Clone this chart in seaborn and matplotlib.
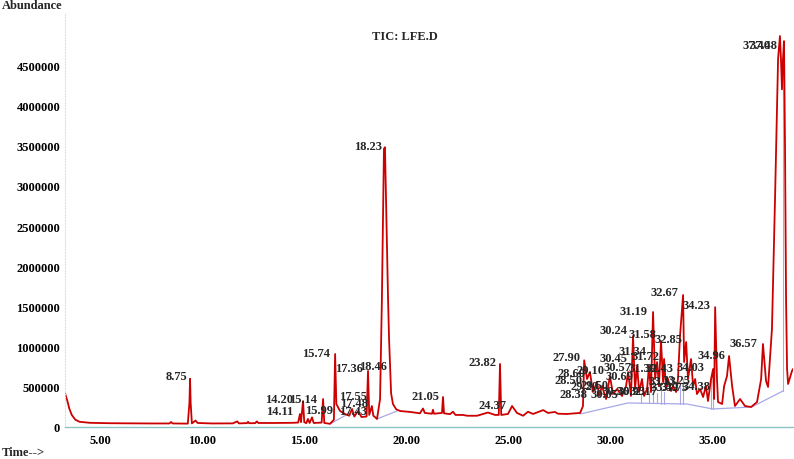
import numpy as np
import pandas as pd
import matplotlib.pyplot as plt
import matplotlib.ticker as mticker
import seaborn as sns

# -------------------------------
# Chromatogram trace (time, abundance)
# -------------------------------
rt = [3.29, 3.40, 3.50, 3.62, 3.80, 4.00, 4.50, 5.50, 6.50, 7.50, 8.40, 8.48, 8.56,
      9.30, 9.38, 9.41, 9.44, 9.50, 9.68, 9.78, 10.50, 11.50, 11.72, 11.80, 12.20,
      12.25, 12.30, 12.60, 12.68, 12.75, 13.50, 14.40, 14.70, 14.79, 14.84, 14.94,
      15.00, 15.10, 15.18, 15.26, 15.38, 15.46, 15.85, 15.92, 15.98, 16.26, 16.45,
      16.51, 16.57, 16.75, 16.99, 17.20, 17.34, 17.45, 17.63, 17.80, 18.05, 18.12,
      18.18, 18.31, 18.38, 18.46, 18.56, 18.71, 18.80, 18.90, 18.95, 19.00, 19.10,
      19.15, 19.20, 19.25, 19.34, 19.50, 19.69, 20.20, 20.66, 20.81, 20.90, 21.25,
      21.30, 21.35, 21.74, 21.79, 21.84, 22.13, 22.28, 22.40, 22.77, 22.97, 23.46,
      23.99, 24.34, 24.52, 24.58, 24.64, 24.97, 25.17, 25.41, 25.71, 25.95, 26.20,
      26.69, 26.93, 27.27, 27.42, 27.86, 28.50, 28.64, 28.70, 28.84, 28.98, 29.13,
      29.33, 29.43, 29.57, 29.77, 29.96, 30.11, 30.31, 30.55, 30.75, 30.85, 30.99,
      31.09, 31.19, 31.29, 31.39, 31.53, 31.63, 31.78, 31.87, 31.97, 32.07, 32.17,
      32.27, 32.36, 32.46, 32.56, 32.61, 32.71, 32.80, 32.95, 33.05, 33.20, 33.29,
      33.39, 33.54, 33.59, 33.69, 33.78, 33.93, 34.03, 34.13, 34.22, 34.37, 34.52,
      34.66, 34.76, 34.91, 35.01, 35.06, 35.11, 35.20, 35.25, 35.45, 35.55, 35.69,
      35.79, 35.94, 36.08, 36.33, 36.57, 36.87, 37.16, 37.36, 37.45, 37.60, 37.70,
      37.89, 38.04, 38.19, 38.28, 38.33, 38.38, 38.43, 38.48, 38.53, 38.58, 38.63,
      38.68, 38.78, 38.87, 38.92]
abundance = [420000, 330000, 230000, 150000, 90000, 65000, 52000, 47000, 45000, 44000,
             44000, 62000, 44000,
             42000, 300000, 600000, 300000, 45000, 80000, 50000, 44000, 45000, 70000,
             45000, 48000, 65000, 47000, 48000, 70000, 50000, 50000, 52000, 55000,
             162000, 60000, 323000, 60000, 48000, 100000, 50000, 120000, 50000, 55000,
             348000, 50000, 40000, 90000, 908000, 286000, 200000, 162000, 140000,
             224000, 130000, 199000, 124000, 130000, 697000, 150000, 261000, 140000,
             124000, 100000, 348000, 1590000, 3460000, 3480000, 2850000, 1600000,
             1100000, 746000, 420000, 286000, 220000, 199000, 187000, 170000, 230000,
             175000, 165000, 215000, 165000, 175000, 373000, 170000, 160000, 190000,
             150000, 150000, 140000, 140000, 180000, 150000, 150000, 784000, 150000,
             162000, 261000, 175000, 140000, 190000, 162000, 210000, 175000, 187000,
             165000, 162000, 175000, 260000, 830000, 597000, 684000, 435000, 560000,
             386000, 510000, 348000, 634000, 410000, 473000, 386000, 510000, 684000,
             386000, 1132000, 473000, 759000, 435000, 597000, 386000, 473000, 759000,
             435000, 1430000, 597000, 808000, 510000, 1070000, 560000, 846000, 473000,
             597000, 448000, 510000, 435000, 597000, 1132000, 1642000, 808000,
             1057000, 597000, 846000, 510000, 597000, 410000, 473000, 373000, 510000,
             323000, 597000, 721000, 348000, 1490000, 597000, 311000, 286000, 510000,
             634000, 883000, 510000, 261000, 348000, 261000, 249000, 311000, 597000,
             1032000, 572000, 498000, 1219000, 2836000, 4580000, 4863000, 4580000,
             4200000, 4580000, 4800000, 3460000, 1590000, 721000, 535000, 622000,
             697000, 721000]

# peak labels: text, peak time, label height
peak_labels = ["8.75", "14.11", "14.20", "15.14", "15.99", "15.74", "17.36", "17.55",
               "17.48", "17.43", "18.46", "18.23", "21.05", "23.82", "24.37", "27.90",
               "28.60", "28.50", "29.10", "29.20", "29.50", "28.38", "30.05", "30.36",
               "30.93", "32.17", "30.45", "30.57", "30.69", "31.34", "31.72", "31.39",
               "32.43", "31.58", "31.19", "30.24", "32.67", "32.85", "34.23", "34.03",
               "33.13", "33.25", "33.49", "33.75", "34.38", "34.96", "36.57", "37.40",
               "37.48"]
peak_rt = [9.36, 14.55, 14.55, 15.72, 16.50, 16.36, 17.97, 18.17, 18.20, 18.17, 19.15,
           18.90, 21.74, 24.53, 25.02, 28.60, 28.84, 28.74, 29.80, 29.50, 30.00, 28.98,
           30.50, 31.00, 31.80, 32.40, 30.94, 31.10, 31.20, 31.87, 32.50, 32.36, 33.15,
           32.36, 31.92, 30.94, 33.39, 33.59, 34.96, 34.71, 33.30, 34.00, 33.40, 33.90,
           35.00, 35.69, 37.30, 37.94, 38.24]
peak_height = [634000, 199000, 348000, 348000, 211000, 920000, 734000, 386000, 300000,
               199000, 759000, 3500000, 386000, 808000, 274000, 870000, 672000, 585000,
               709000, 510000, 522000, 410000, 410000, 448000, 448000, 448000, 858000,
               746000, 634000, 945000, 883000, 734000, 734000, 1157000, 1443000,
               1206000, 1679000, 1095000, 1517000, 746000, 572000, 585000, 497000,
               497000, 510000, 896000, 1045000, 4750000, 4750000]

y_ticks = [0, 500000, 1000000, 1500000, 2000000, 2500000, 3000000, 3500000, 4000000, 4500000]

# integration baselines
base_rt = [[16.26, 17.14], [18.56, 19.54], [28.50, 30.85, 33.73, 35.00, 36.90, 38.43]]
base_ab = [[37000, 162000], [100000, 199000], [162000, 299000, 286000, 224000, 249000, 448000]]
drop_rt = [31.50, 31.85, 32.07, 32.27, 32.46, 32.61, 33.39, 33.54, 34.91, 35.01, 38.43]
drop_top = [420000, 450000, 600000, 420000, 560000, 430000, 520000, 600000, 597000, 700000, 4800000]

# -------------------------------
# Plot
# -------------------------------
sns.set_style("white")
plt.rcParams['font.family'] = ['Liberation Serif', 'DejaVu Serif']
plt.rcParams['font.weight'] = 'bold'

fig = plt.figure(figsize=(7.94, 4.6), dpi=100)
ax = fig.add_axes([65 / 794, 32 / 460, 728 / 794, 413 / 460])

trace = pd.DataFrame({'time': rt, 'abundance': abundance})

# integration lines (behind trace)
lav = '#a8a8e8'
for bx, by in zip(base_rt, base_ab):
    ax.plot(bx, by, color=lav, lw=0.9, zorder=1)
for t, top in zip(drop_rt, drop_top):
    b = np.interp(t, base_rt[2], base_ab[2])
    ax.plot([t, t], [b, top], color=lav, lw=0.8, zorder=1)

sns.lineplot(data=trace, x='time', y='abundance', sort=False, estimator=None,
             color='#cc0000', lw=1.3, ax=ax, zorder=2)

for txt, t, h in zip(peak_labels, peak_rt, peak_height):
    ax.annotate(txt, (t, h), xytext=(-1.5, 0), textcoords='offset points',
                ha='right', va='center', fontsize=9, fontweight='bold', zorder=3)

ax.set_xlim(3.29, 38.92)
ax.set_ylim(0, 5.137e6)
ax.set_xlabel('')
ax.set_ylabel('')

ax.xaxis.set_major_locator(mticker.MultipleLocator(5))
ax.xaxis.set_minor_locator(mticker.MultipleLocator(1))
ax.xaxis.set_major_formatter(mticker.FormatStrFormatter('%.2f'))
ax.yaxis.set_major_locator(mticker.FixedLocator(y_ticks))
ax.yaxis.set_minor_locator(mticker.MultipleLocator(100000))
ax.yaxis.set_major_formatter(mticker.FormatStrFormatter('%d'))

for s in ['top', 'right']:
    ax.spines[s].set_visible(False)
ax.spines['bottom'].set_color('#8cc4c4')
ax.spines['bottom'].set_linewidth(1.0)
ax.spines['left'].set_color('#d8e2e2')
ax.spines['left'].set_linestyle(':')
ax.spines['left'].set_linewidth(0.8)

ax.tick_params(axis='x', which='both', direction='out', colors='#8cc4c4',
               labelcolor='black', labelsize=9, length=3, width=0.8, pad=2)
ax.tick_params(axis='y', which='both', direction='out', colors='#d8e2e2',
               labelcolor='black', labelsize=9, length=1.5, width=0.8, pad=2)
for lab in ax.get_xticklabels() + ax.get_yticklabels():
    lab.set_fontweight('bold')

fig.text(0.002, 1 - 6 / 460, 'Abundance', fontsize=9, fontweight='bold', va='center', ha='left')
fig.text(0.002, 1 - 453 / 460, 'Time-->', fontsize=9, fontweight='bold', va='center', ha='left')
fig.text(405 / 794, 1 - 37 / 460, 'TIC: LFE.D', fontsize=9, fontweight='bold', va='center', ha='center')

fig.savefig('out.png', dpi=100)
